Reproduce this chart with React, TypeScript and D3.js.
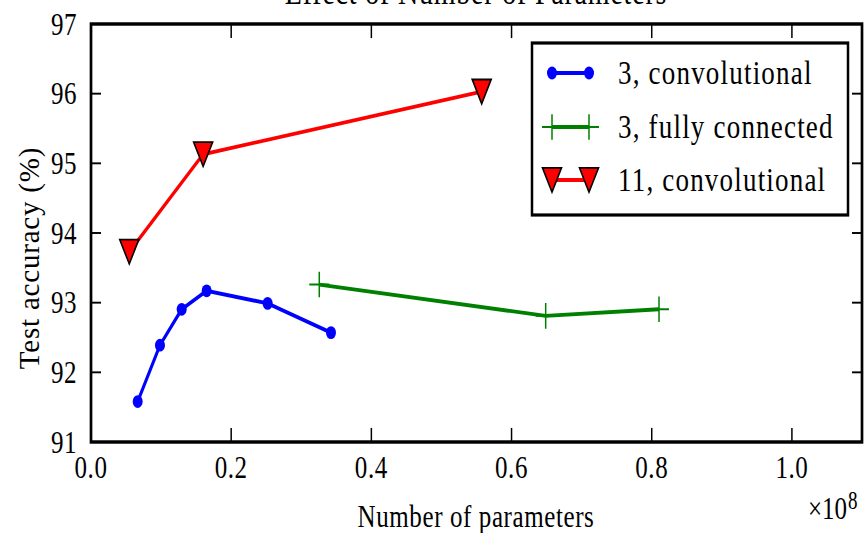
import * as d3 from "d3";

// image looks vertically stretched, so draw in a squashed space and let the viewBox stretch it
const SY = 1.28;
const W = 865;
const H = 533;
const v = (px: number) => px / SY;

// x in units of 1e8 parameters, y in %
const conv3X = [0.0666, 0.0984, 0.1294, 0.165, 0.252, 0.3424];
const conv3Y = [91.58, 92.39, 92.905, 93.17, 92.99, 92.57];
const fc3X = [0.3257, 0.6487, 0.8104];
const fc3Y = [93.26, 92.81, 92.905];
const conv11X = [0.0546, 0.16, 0.5574];
const conv11Y = [93.73, 95.13, 96.03];

const xTicks = [0, 0.2, 0.4, 0.6, 0.8, 1.0];
const yTicks = [91, 92, 93, 94, 95, 96, 97];
const seriesNames = ["3, convolutional", "3, fully connected", "11, convolutional"];

const FONT = "'Liberation Serif', serif";
const BLUE = "#0000ff";
const GREEN = "#008000";
const RED = "#ff0000";

const left = 91, right = 862, top = v(24), bottom = v(442);

const x = d3.scaleLinear().domain([0, 1.1]).range([left, right]);
const y = d3.scaleLinear().domain([91, 97]).range([bottom, top]);

const line = d3
  .line<[number, number]>()
  .x((d) => x(d[0]))
  .y((d) => y(d[1]));

const zip = (xs: number[], ys: number[]) => xs.map((d, i) => [d, ys[i]] as [number, number]);

const tri = (cx: number, cy: number) =>
  `M${cx - 9.5},${cy - 9.5}L${cx + 9.5},${cy - 9.5}L${cx},${cy + 9.5}Z`;
const plus = (cx: number, cy: number) => `M${cx - 10},${cy}H${cx + 10}M${cx},${cy - 10}V${cy + 10}`;

const Circle = ({ cx, cy }: { cx: number; cy: number }) => <circle cx={cx} cy={cy} r={5} fill={BLUE} />;
const Tri = ({ cx, cy }: { cx: number; cy: number }) => (
  <path d={tri(cx, cy)} fill={RED} stroke="#000" strokeWidth={1.5} strokeLinejoin="miter" />
);
const Plus = ({ cx, cy }: { cx: number; cy: number }) => (
  <path d={plus(cx, cy)} stroke={GREEN} strokeWidth={1.5} fill="none" />
);

export default function App() {
  const legendRows = [v(73), v(127), v(180)];
  const lx1 = 552, lx2 = 589;

  return (
    <svg
      width={W}
      height={H}
      viewBox={`0 0 ${W} ${v(H)}`}
      preserveAspectRatio="none"
      style={{ position: "absolute", left: 0, top: 0, display: "block", background: "#fff" }}
    >
      <rect x={0} y={0} width={W} height={v(H)} fill="#fff" />

      {/* title, mostly cut off at the top as in the source */}
      <text x={476} y={v(4)} textAnchor="middle" fontFamily={FONT} fontSize={28} letterSpacing={0.8}>
        Effect of Number of Parameters
      </text>

      {/* series */}
      <path d={line(zip(conv3X, conv3Y)) || ""} fill="none" stroke={BLUE} strokeWidth={3} />
      {conv3X.map((d, i) => (
        <Circle key={"c" + i} cx={x(d)} cy={y(conv3Y[i])} />
      ))}
      <path d={line(zip(fc3X, fc3Y)) || ""} fill="none" stroke={GREEN} strokeWidth={3} />
      {fc3X.map((d, i) => (
        <Plus key={"p" + i} cx={x(d)} cy={y(fc3Y[i])} />
      ))}
      <path d={line(zip(conv11X, conv11Y)) || ""} fill="none" stroke={RED} strokeWidth={3} />
      {conv11X.map((d, i) => (
        <Tri key={"t" + i} cx={x(d)} cy={y(conv11Y[i])} />
      ))}

      {/* ticks, inward on all four sides */}
      {xTicks.map((t) => (
        <g key={"x" + t}>
          <line x1={x(t)} x2={x(t)} y1={bottom} y2={bottom - 11} stroke="#000" strokeWidth={1.5} />
          <line x1={x(t)} x2={x(t)} y1={top} y2={top + 11} stroke="#000" strokeWidth={1.5} />
          <text x={x(t)} y={v(478)} textAnchor="middle" fontFamily={FONT} fontSize={25} letterSpacing={0.6}>
            {d3.format(".1f")(t)}
          </text>
        </g>
      ))}
      {yTicks.map((t) => (
        <g key={"y" + t}>
          <line x1={left} x2={left + 10} y1={y(t)} y2={y(t)} stroke="#000" strokeWidth={1.5} />
          <line x1={right} x2={right - 10} y1={y(t)} y2={y(t)} stroke="#000" strokeWidth={1.5} />
          <text x={77} y={y(t)} dy="0.33em" textAnchor="end" fontFamily={FONT} fontSize={25} letterSpacing={0.5}>
            {t}
          </text>
        </g>
      ))}

      {/* frame */}
      <rect x={left} y={top} width={right - left} height={bottom - top} fill="none" stroke="#000" strokeWidth={2.7} />

      {/* axis labels */}
      <text x={476} y={v(527)} textAnchor="middle" fontFamily={FONT} fontSize={25} letterSpacing={0.6}>
        Number of parameters
      </text>
      <text x={847} y={v(519)} textAnchor="end" fontFamily={FONT} fontSize={25}>
        ×10
      </text>
      <text x={848} y={v(509)} textAnchor="start" fontFamily={FONT} fontSize={19}>
        8
      </text>
      <g transform={`translate(29,${v(258)}) scale(1,${1 / SY}) rotate(-90)`}>
        <text x={0} y={0} dy="0.35em" textAnchor="middle" fontFamily={FONT} fontSize={29} letterSpacing={0.8}>
          Test accuracy (%)
        </text>
      </g>

      {/* legend */}
      <rect x={532} y={v(43)} width={316} height={v(215) - v(43)} fill="#fff" stroke="#000" strokeWidth={2.5} />
      {seriesNames.map((name, i) => {
        const cy = legendRows[i];
        const color = [BLUE, GREEN, RED][i];
        return (
          <g key={name}>
            <line x1={lx1} x2={lx2} y1={cy} y2={cy} stroke={color} strokeWidth={3} />
            {i === 0 && (
              <>
                <Circle cx={lx1} cy={cy} />
                <Circle cx={lx2} cy={cy} />
              </>
            )}
            {i === 1 && (
              <>
                <Plus cx={lx1} cy={cy} />
                <Plus cx={lx2} cy={cy} />
              </>
            )}
            {i === 2 && (
              <>
                <Tri cx={lx1} cy={cy} />
                <Tri cx={lx2} cy={cy} />
              </>
            )}
            <text x={618} y={cy} dy="0.33em" fontFamily={FONT} fontSize={27} letterSpacing={1.2}>
              {name}
            </text>
          </g>
        );
      })}
    </svg>
  );
}
